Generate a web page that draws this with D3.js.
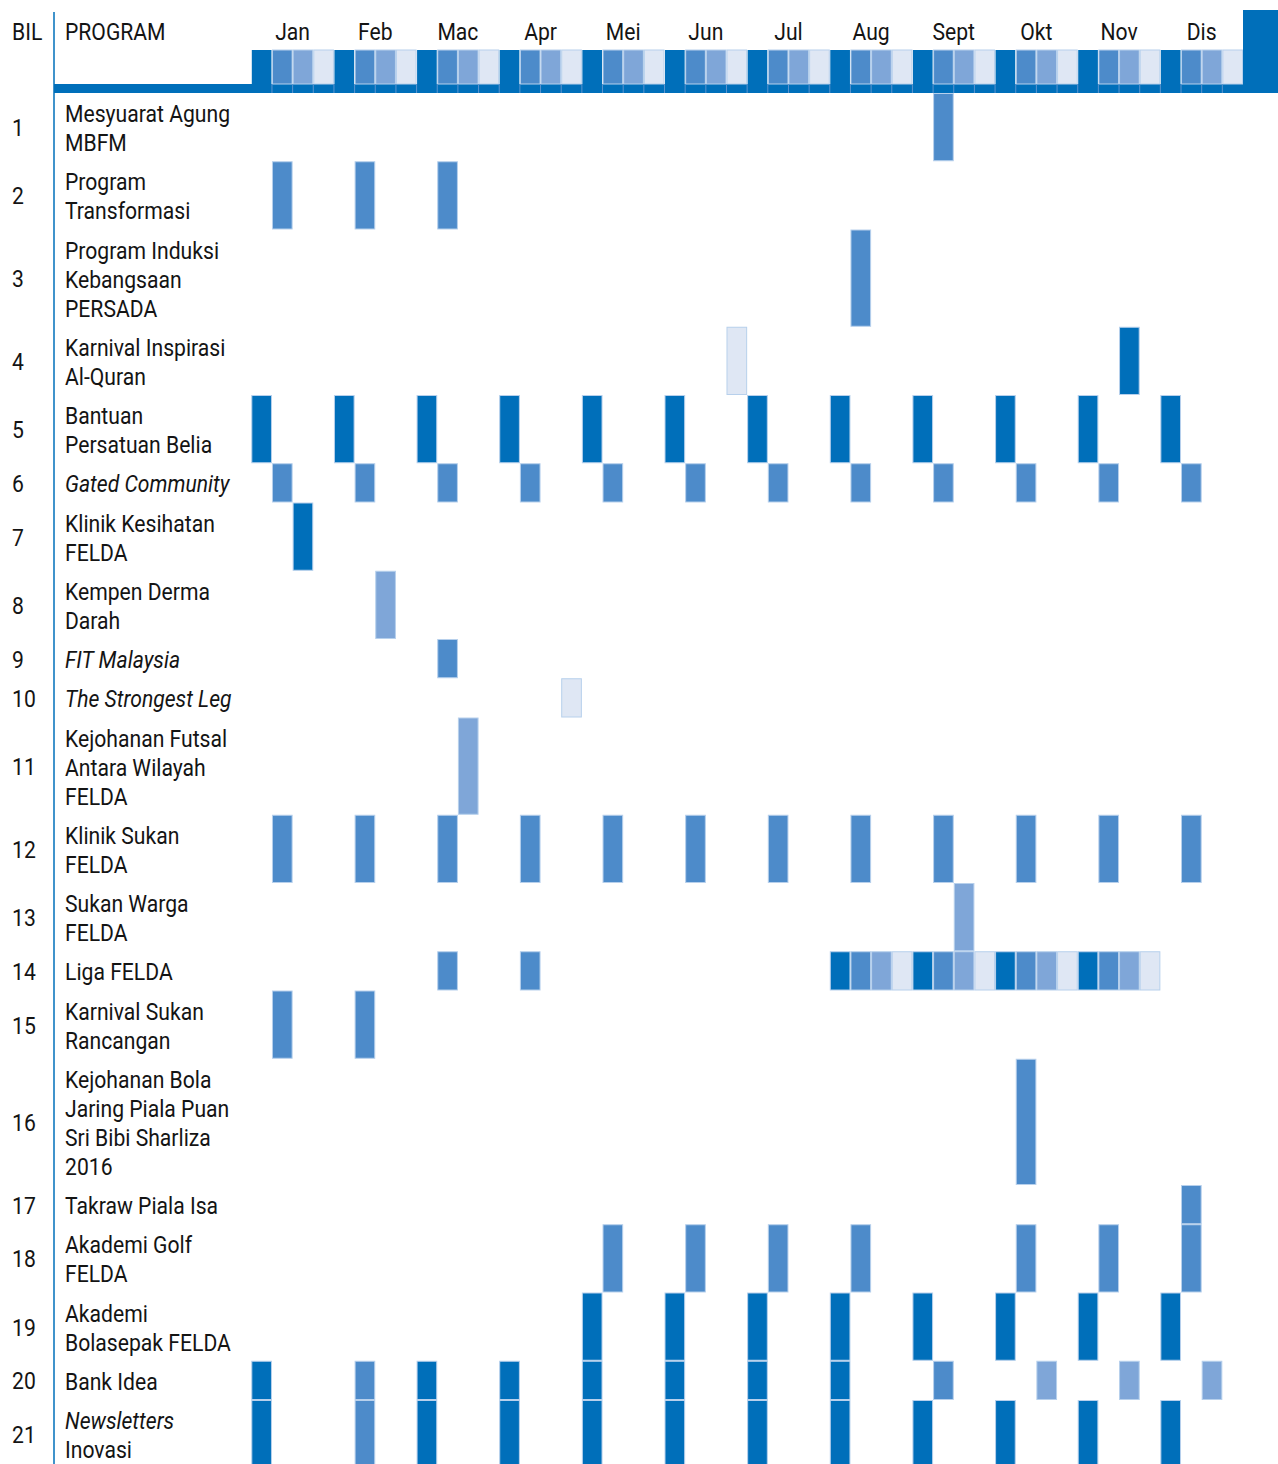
<!DOCTYPE html>
<html>
<head>
<meta charset="utf-8">
<script src="https://cdn.jsdelivr.net/npm/d3@7/dist/d3.min.js"></script>
<style>
  body { margin:0; background:#fff; }
  svg text { font-family: Roboto, "Noto Sans", sans-serif; fill:#141414; }
</style>
</head>
<body>
<svg id="chart" width="1278" height="1464"></svg>
<script>
// bulan & minggu
var months = ["Jan","Feb","Mac","Apr","Mei","Jun","Jul","Aug","Sept","Okt","Nov","Dis"];
var headerTones = [0,1,2,3];

// senarai program (baris teks)
var bil = [1,2,3,4,5,6,7,8,9,10,11,12,13,14,15,16,17,18,19,20,21];
var programs = [
  ["Mesyuarat Agung","MBFM"],
  ["Program","Transformasi"],
  ["Program Induksi","Kebangsaan","PERSADA"],
  ["Karnival Inspirasi","Al-Quran"],
  ["Bantuan","Persatuan Belia"],
  ["Gated Community"],
  ["Klinik Kesihatan","FELDA"],
  ["Kempen Derma","Darah"],
  ["FIT Malaysia"],
  ["The Strongest Leg"],
  ["Kejohanan Futsal","Antara Wilayah","FELDA"],
  ["Klinik Sukan","FELDA"],
  ["Sukan Warga","FELDA"],
  ["Liga FELDA"],
  ["Karnival Sukan","Rancangan"],
  ["Kejohanan Bola","Jaring Piala Puan","Sri Bibi Sharliza","2016"],
  ["Takraw Piala Isa"],
  ["Akademi Golf","FELDA"],
  ["Akademi","Bolasepak FELDA"],
  ["Bank Idea"],
  ["Newsletters","Inovasi"]
];
// baris yg baris pertamanya italic
var italicRows = [6,9,10,21];

// minggu (0-47) yang aktif bagi setiap program
var weeks = [
  [33],
  [1,5,9],
  [29],
  [23,42],
  [0,4,8,12,16,20,24,28,32,36,40,44],
  [1,5,9,13,17,21,25,29,33,37,41,45],
  [2],
  [6],
  [9],
  [15],
  [10],
  [1,5,9,13,17,21,25,29,33,37,41,45],
  [34],
  [9,13,28,29,30,31,32,33,34,35,36,37,38,39,40,41,42,43],
  [1,5],
  [37],
  [45],
  [17,21,25,29,37,41,45],
  [16,20,24,28,32,36,40,44],
  [0,5,8,12,16,20,24,28,33,38,42,46],
  [0,5,8,12,16,20,24,28,32,36,40,44]
];
// warna (0 gelap .. 3 paling cair) bagi setiap minggu di atas
var tones = [
  [1],
  [1,1,1],
  [1],
  [3,0],
  [0,0,0,0,0,0,0,0,0,0,0,0],
  [1,1,1,1,1,1,1,1,1,1,1,1],
  [0],
  [2],
  [1],
  [3],
  [2],
  [1,1,1,1,1,1,1,1,1,1,1,1],
  [2],
  [1,1,0,1,2,3,0,1,2,3,0,1,2,3,0,1,2,3],
  [1,1],
  [1],
  [1],
  [1,1,1,1,1,1,1],
  [0,0,0,0,0,0,0,0],
  [0,1,0,0,0,0,0,0,1,2,2,2],
  [0,1,0,0,0,0,0,0,0,0,0,0]
];

var palette = ["#006fba","#4d8bca","#7fa6d8","#dfe7f4"];
var cellStroke = "#b7d0ec";
var lineH = 29, rowPad = 10.25, fontSize = 23, squeeze = 0.92;

var svg = d3.select("#chart");

var allWeeks = d3.range(48);
var x = d3.scaleBand().domain(allWeeks).range([251.3, 1243]).padding(0);

// kedudukan baris: unit = bilangan baris teks
var rowUnits = programs.map(function(p){ return p.length*lineH + rowPad; });
var rowStart = [0];
rowUnits.forEach(function(u,i){ rowStart.push(rowStart[i]+u); });
var y = d3.scaleLinear().domain([0, 1]).range([93, 94]);

function label(g, txt, tx, ty, italic, anchor){
  g.append("text")
    .attr("transform","translate("+tx+","+ty+") scale("+squeeze+",1)")
    .attr("font-size",fontSize)
    .attr("font-style", italic ? "italic" : "normal")
    .attr("text-anchor", anchor || "start")
    .text(txt);
}

// ---- header ----
var head = svg.append("g");
head.append("rect").attr("x",1243).attr("y",10).attr("width",35).attr("height",83).attr("fill",palette[0]);
head.append("rect").attr("x",54).attr("y",84).attr("width",1224).attr("height",9).attr("fill",palette[0]);
head.selectAll("rect.hc").data(allWeeks).enter().append("rect")
  .attr("class","hc")
  .attr("x",function(d){ return x(d)+0.5; })
  .attr("y",50)
  .attr("width",x.bandwidth()-1)
  .attr("height",34)
  .attr("fill",function(d){ return palette[headerTones[d%4]]; })
  .attr("stroke",function(d){ return d%4==0 ? "none" : cellStroke; })
  .attr("stroke-width",1);
head.selectAll("line.hs").data(allWeeks.slice(1)).enter().append("line")
  .attr("class","hs")
  .attr("x1",function(d){ return x(d); }).attr("x2",function(d){ return x(d); })
  .attr("y1",84).attr("y2",93)
  .attr("stroke","#5c94cf").attr("stroke-width",1);

label(head,"BIL",12,40,false);
label(head,"PROGRAM",65,40,false);
months.forEach(function(m,i){
  label(head,m,x(i*4)+x.bandwidth()*2,40,false,"middle");
});

svg.append("line").attr("x1",54).attr("x2",54).attr("y1",12).attr("y2",1464)
  .attr("stroke",palette[0]).attr("stroke-width",1.5);

// ---- baris program ----
programs.forEach(function(lines,i){
  var top = y(rowStart[i]), bottom = y(rowStart[i+1]);
  var g = svg.append("g");
  var cells = weeks[i].map(function(w,j){ return {w:w, t:tones[i][j]}; });
  g.selectAll("rect").data(cells).enter().append("rect")
    .attr("x",function(d){ return x(d.w)+0.5; })
    .attr("y",top+0.5)
    .attr("width",x.bandwidth()-1)
    .attr("height",bottom-top-1)
    .attr("fill",function(d){ return palette[d.t]; })
    .attr("stroke",cellStroke)
    .attr("stroke-width",1);

  label(g, String(bil[i]), 12, (top+bottom)/2+9, false);
  lines.forEach(function(t,k){
    var it = k==0 && italicRows.indexOf(bil[i])>=0;
    label(g, t, 65, top + lineH*(k+1), it);
  });
});
</script>
</body>
</html>
